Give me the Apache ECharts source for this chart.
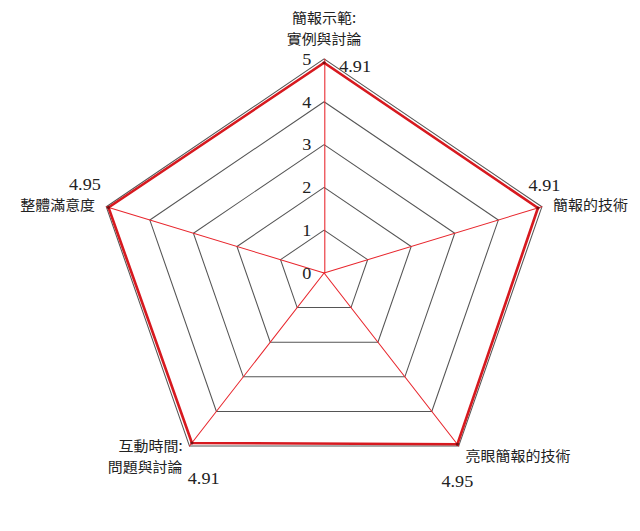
<!DOCTYPE html>
<html>
<head>
<meta charset="utf-8">
<script src="https://cdn.jsdelivr.net/npm/echarts@6/dist/echarts.min.js"></script>
<style>
html,body{margin:0;padding:0;background:#fff;overflow:hidden;}
#c{width:598px;height:531px;transform:scaleX(1.0702);transform-origin:0 0;}
</style>
</head>
<body>
<div id="c"></div>
<script>
// Indicators in ECharts order (counter-clockwise from the top)
const indicatorNames = ['簡報示範:\n實例與討論', '整體滿意度', '互動時間:\n問題與討論', '亮眼簡報的技術', '簡報的技術'];
const scores = [4.91, 4.95, 4.91, 4.95, 4.91];
const tickValues = [0, 1, 2, 3, 4, 5];

// style / layout constants
const CX = 0.5064, CY = 0.514;
// value-label offsets by screen direction, clockwise from top: top, right, bottom-right, bottom-left, left
const LABEL_OFFSETS = [[29, 3], [6, -23], [0, 37], [11, 35], [-22, -23]];

const chart = echarts.init(document.getElementById('c'), null, {renderer: 'svg'});
const maxV = tickValues[tickValues.length - 1];
const minV = tickValues[0];

chart.setOption({
  backgroundColor: '#fff',
  animation: false,
  radar: {
    center: [(CX * 100) + '%', (CY * 100) + '%'],
    radius: 214,
    startAngle: 90,
    shape: 'polygon',
    splitNumber: tickValues.length - 1,
    nameGap: 11,
    axisName: {
      color: '#222',
      fontFamily: 'Noto Sans CJK TC',
      fontSize: 14,
      lineHeight: 21
    },
    axisLine: {lineStyle: {color: '#e8262d', width: 1}},
    axisTick: {show: false},
    axisLabel: {show: false},
    splitLine: {lineStyle: {color: '#555', width: 1}},
    splitArea: {show: false},
    indicator: indicatorNames.map(function (n, i) {
      const ind = {name: n, min: minV, max: maxV};
      if (i === 0) {
        ind.axisLabel = {
          show: true,
          margin: 12,
          showMinLabel: true,
          showMaxLabel: true,
          color: '#222',
          fontFamily: 'Liberation Serif',
          fontSize: 17
        };
      }
      return ind;
    })
  },
  series: [{
    type: 'radar',
    symbol: 'circle',
    symbolSize: 3,
    itemStyle: {color: '#7a0c10'},
    lineStyle: {color: '#d7191f', width: 2.5},
    label: {
      show: true,
      position: 'inside',
      color: '#222',
      fontFamily: 'Liberation Serif',
      fontSize: 17,
      lineHeight: 17,
      formatter: function (p) { return Number(p.value).toFixed(2); }
    },
    labelLayout: function (p) {
      const W = chart.getWidth(), H = chart.getHeight();
      const cx = W * CX, cy = H * CY;
      const vx = p.rect.x + p.rect.width / 2, vy = p.rect.y + p.rect.height / 2;
      let a = Math.atan2(vx - cx, cy - vy);
      if (a < 0) a += 2 * Math.PI;
      const k = Math.round(a / (2 * Math.PI / 5)) % 5;
      const o = LABEL_OFFSETS[k];
      return {x: vx + o[0], y: vy + o[1], align: 'center', verticalAlign: 'middle'};
    },
    data: [{value: scores, name: '滿意度'}]
  }]
});
</script>
</body>
</html>
